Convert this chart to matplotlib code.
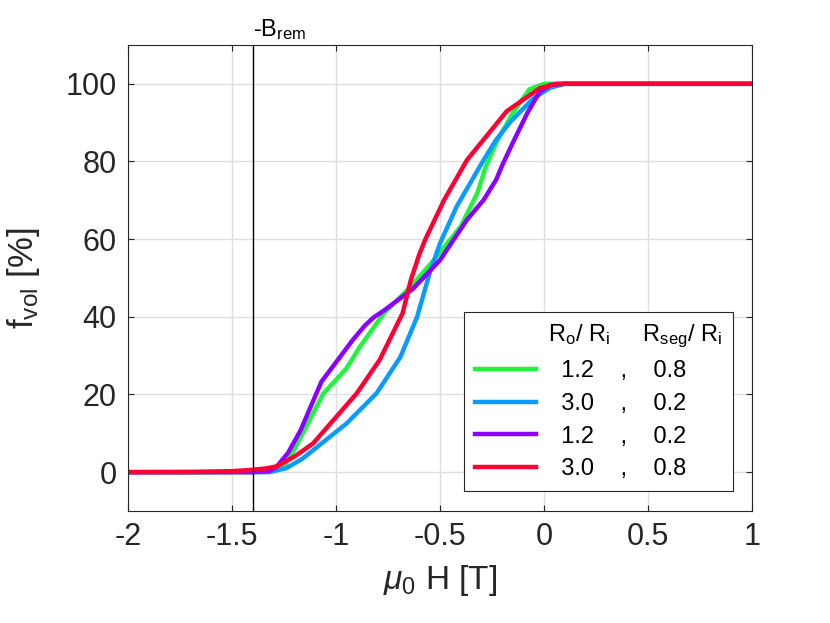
import numpy as np
import matplotlib
matplotlib.use("Agg")
import matplotlib.pyplot as plt
from matplotlib.lines import Line2D

plt.rcParams['font.family'] = ['Liberation Sans', 'DejaVu Sans']
plt.rcParams['mathtext.fontset'] = 'custom'
plt.rcParams['mathtext.rm'] = 'Liberation Sans'
plt.rcParams['mathtext.it'] = 'Liberation Sans:italic'
plt.rcParams['mathtext.bf'] = 'Liberation Sans:bold'

# data (mu0 H [T], f_vol [%])
x_green = [-2, -1.6, -1.4, -1.3, -1.25, -1.22, -1.15, -1.06, -0.95, -0.885, -0.77,
           -0.64, -0.53, -0.40, -0.36, -0.32, -0.28, -0.23, -0.15, -0.07, 0, 0.1, 1]
y_green = [0, 0, 0.2, 0.5, 1.5, 3.9, 11, 20.3, 26.7, 32.3, 40.9,
           47.8, 54.6, 63.3, 67.6, 71.9, 78.7, 84.8, 92.5, 98.6, 100, 100, 100]

x_blue = [-2, -1.4, -1.32, -1.24, -1.16, -1.09, -0.95, -0.805, -0.69, -0.61, -0.55,
          -0.5, -0.42, -0.29, -0.23, -0.16, -0.05, 0.03, 0.1, 1]
y_blue = [0, 0, 0, 1, 3.5, 6.5, 12.5, 20.3, 29.7, 40, 51.2,
          58.9, 68.4, 80.4, 85.6, 90.3, 96.3, 99, 100, 100]

x_purple = [-2, -1.4, -1.32, -1.285, -1.23, -1.17, -1.07, -0.98, -0.92, -0.86, -0.82,
            -0.77, -0.68, -0.63, -0.5, -0.37, -0.29, -0.23, -0.2, -0.15, -0.08,
            -0.02, 0.03, 0.1, 1]
y_purple = [0, 0, 0.3, 1.4, 5, 10.8, 23.3, 29.7, 34.0, 37.8, 39.8,
            41.6, 45.2, 47.2, 54.6, 65, 70.1, 75.3, 79.1, 84.8, 92.5,
            98, 99.7, 100, 100]

x_red = [-2, -1.7, -1.5, -1.4, -1.33, -1.285, -1.2, -1.11, -0.9, -0.79, -0.68,
         -0.64, -0.6, -0.57, -0.48, -0.37, -0.28, -0.18, -0.02, 0.06, 1]
y_red = [0, 0.05, 0.25, 0.6, 1.0, 1.5, 4, 7.4, 20.3, 28.9, 40.9,
         49.5, 56, 60, 70.1, 80.4, 86.3, 92.9, 98.9, 100, 100]

ro_ri = ['1.2', '3.0', '1.2', '3.0']
rseg_ri = ['0.8', '0.2', '0.2', '0.8']
b_rem = -1.4

axcol = '#262626'
fig = plt.figure(figsize=(8.3, 6.23), dpi=100)
ax = fig.add_axes([0.1542, 0.1798, 0.7518, 0.748])

lw = 3.2
l1, = ax.plot(x_green, y_green, color='#1ef53c', lw=lw)
l2, = ax.plot(x_blue, y_blue, color='#0a9bff', lw=lw)
l3, = ax.plot(x_purple, y_purple, color='#8c00ff', lw=lw)
l4, = ax.plot(x_red, y_red, color='#ff0035', lw=lw)

ax.axvline(b_rem, color='black', lw=1.0)
ax.annotate(r'-B$_{\mathrm{rem}}$', xy=(b_rem, 110), xytext=(0, 2),
            textcoords='offset points', ha='left', va='bottom', fontsize=17,
            annotation_clip=False)

ax.set_xlim(-2, 1)
ax.set_ylim(-10, 110)
ax.set_xticks([-2, -1.5, -1, -0.5, 0, 0.5, 1])
ax.set_xticklabels(['-2', '-1.5', '-1', '-0.5', '0', '0.5', '1'])
ax.set_yticks([0, 20, 40, 60, 80, 100])
ax.grid(True, color='#dfdfdf', lw=1.0)
ax.set_axisbelow(True)
ax.tick_params(direction='in', length=4.5, width=0.8, colors=axcol,
               labelsize=22, pad=8, top=True, right=True)
for s in ax.spines.values():
    s.set_color(axcol)
    s.set_linewidth(0.8)

ax.set_xlabel(r'$\mu_0$ H [T]', fontsize=24, color=axcol, labelpad=8)
ax.set_ylabel(r'f$_{\mathrm{vol}}$ [%]', fontsize=25, color=axcol)
ax.yaxis.set_label_coords(-0.137, 0.5)

header = Line2D([], [], color='none')
labels = [r'$\mathregular{R_o/\ R_i}$     $\mathregular{R_{seg}/\ R_i}$']
for a, b in zip(ro_ri, rseg_ri):
    labels.append('  ' + a + '    ,    ' + b)
leg = ax.legend([header, l1, l2, l3, l4], labels, loc='lower right',
                bbox_to_anchor=(0.97, 0.043), fontsize=17, frameon=True,
                fancybox=False, framealpha=1, edgecolor=axcol,
                handlelength=2.6, handletextpad=0.5, labelspacing=0.45,
                borderpad=0.45, borderaxespad=0)
leg.get_frame().set_linewidth(0.8)

fig.savefig('out.png', dpi=100)
